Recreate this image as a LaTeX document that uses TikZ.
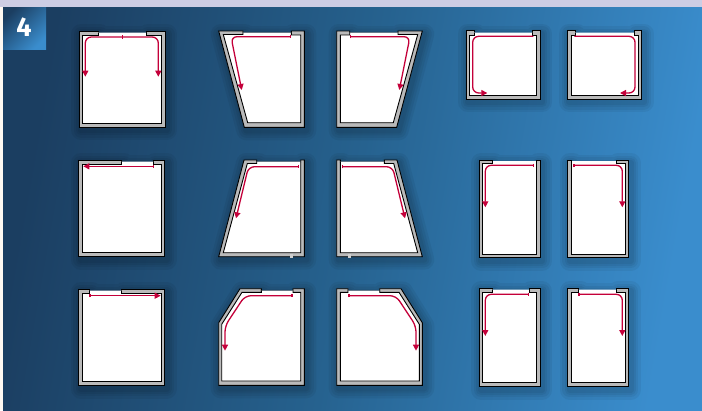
\documentclass[tikz,border=0pt]{standalone}
\usepackage{xcolor}
\usepackage{fontspec}
\setsansfont{Fira Sans}
\usetikzlibrary{arrows.meta}
\definecolor{bgdark}{HTML}{1B3E61}
\definecolor{bgmid}{HTML}{26628F}
\definecolor{bglight}{HTML}{3A8DCD}
\definecolor{wallgray}{HTML}{BABABA}
\definecolor{flowred}{HTML}{C4003A}

\begin{document}
\begin{tikzpicture}[x=1pt,y=-1pt, line join=miter,
  halo/.style={preaction={draw=black,draw opacity=.05,line width=#1,line join=round,
    transform canvas={shift={(2pt,-3pt)}}}},
  shell/.style={draw=black,fill=wallgray,line width=.9pt,halo=20pt,halo=15pt,halo=10pt,halo=6pt},
  cavity/.style={draw=black,fill=white,line width=.9pt},
  flow/.style={draw=flowred,line width=1.3pt,rounded corners=6pt,-{Triangle[length=6pt,width=6pt]}},
  bflow/.style={flow,{Bar[width=3.5pt,length=.8pt]}-{Triangle[length=6pt,width=6pt]}},
  speck/.style={fill=wallgray!70!white}]
  \useasboundingbox (0,0) rectangle (702,410);
  \fill[white!95!orange] (0,0) rectangle (3,410);
  \shade[left color=bgdark,right color=bglight,middle color=bgmid,shading angle=80] (3,7) rectangle (702,410);
  \fill[blue!30!gray!30!white] (0,0) rectangle (702,7);
  \shade[left color=bgdark,right color=bglight,shading angle=45] (3,7) rectangle (46,49);
  \node[text=white,font=\sffamily\bfseries\fontsize{27}{27}\selectfont] (badge) at (24,27) {4};

  % top row
  \draw[shell] (98,33)--(98,31)--(79,31)--(79,127)--(165,127)--(165,31)--(146,31)--(146,33)--cycle;
  \draw[cavity] (98,32.5)--(98,35)--(82.5,35)--(82.5,123)--(161.5,123)--(161.5,35)--(146,35)--(146,32.5);
  \draw[flow] (122.3,37)--(85.3,37)--(85.3,76.7);
  \draw[flow] (122.3,37)--(158.3,37)--(158.3,76.7);
  \draw[flowred,line width=.8pt] (122.3,35)--(122.3,39);

  \draw[shell] (243,33)--(243,31)--(218.7,31)--(244.3,127.3)--(304.3,127.3)--(304.3,31)--(291.3,31)--(291.3,33)--cycle;
  \draw[cavity] (243,32.5)--(243,34.5)--(223.3,34.5)--(247.7,122.7)--(300.7,122.7)--(300.7,35)--(291.3,35)--(291.3,32.5);
  \draw[bflow] (291,36.7)--(231,36.7)--(241.7,90);

  \draw[shell] (398,33)--(398,31)--(422.3,31)--(396.7,127.3)--(336.7,127.3)--(336.7,31)--(349.7,31)--(349.7,33)--cycle;
  \draw[cavity] (398,32.5)--(398,34.5)--(417.7,34.5)--(393.3,122.7)--(340.3,122.7)--(340.3,35)--(349.7,35)--(349.7,32.5);
  \draw[bflow] (350,36.7)--(410,36.7)--(399.3,90);

  \draw[shell] (474,33)--(474,30.5)--(466,30.5)--(466,99.3)--(540.3,99.3)--(540.3,30.5)--(532.3,30.5)--(532.3,33)--cycle;
  \draw[cavity] (474,32.5)--(474,35)--(469.7,35)--(469.7,95.3)--(536.7,95.3)--(536.7,35)--(532.3,35)--(532.3,32.5);
  \draw[flow] (533.3,36.3)--(472.7,36.3)--(472.7,93)--(487.3,93);

  \draw[shell] (575,33)--(575,30.5)--(567.3,30.5)--(567.3,99.3)--(641.7,99.3)--(641.7,30.5)--(634,30.5)--(634,33)--cycle;
  \draw[cavity] (575,32.5)--(575,35)--(571,35)--(571,95.3)--(638,95.3)--(638,35)--(634,35)--(634,32.5);
  \draw[flow] (574.3,36.3)--(635,36.3)--(635,93)--(620,93);

  % middle row
  \draw[shell] (121.7,162)--(121.7,160)--(78.7,160)--(78.7,256.7)--(164.7,256.7)--(164.7,160)--(153.3,160)--(153.3,162)--cycle;
  \draw[cavity] (121.7,161.5)--(121.7,164)--(82.3,164)--(82.3,252.3)--(161.3,252.3)--(161.3,164)--(153.3,164)--(153.3,161.5);
  \draw[bflow] (154,166.3)--(83.3,166.3);

  \draw[shell] (256.7,162)--(256.7,160)--(244,160)--(218.7,256.7)--(304.3,256.7)--(304.3,160)--(300.7,160)--(300.7,162)--cycle;
  \draw[cavity] (256.7,161.5)--(256.7,163.5)--(247.3,163.5)--(223.3,252.7)--(300.7,252.7)--(300.7,161.5);
  \draw[bflow] (299.3,166.7)--(248.5,166.7)--(236,218.3);
  \fill[speck] (289.8,253.5) rectangle (292.8,257.5);

  \draw[shell] (384.3,162)--(384.3,160)--(397,160)--(422.3,256.7)--(336.7,256.7)--(336.7,160)--(340.3,160)--(340.3,162)--cycle;
  \draw[cavity] (384.3,161.5)--(384.3,163.5)--(393.7,163.5)--(417.7,252.7)--(340.3,252.7)--(340.3,161.5);
  \draw[bflow] (341.7,166.7)--(392.5,166.7)--(405,218.3);
  \fill[speck] (348.2,253.5) rectangle (351.2,257.5);

  \draw[shell] (492,161.5)--(492,160)--(479,160)--(479,257.7)--(540.3,257.7)--(540.3,160)--(536.3,160)--(536.3,161.5)--cycle;
  \draw[cavity] (492,161)--(492,163.5)--(482.7,163.5)--(482.7,254)--(536.3,254)--(536.3,161);
  \draw[bflow] (534.3,165.3)--(485.3,165.3)--(485.3,207.3);

  \draw[shell] (616,161.5)--(616,160)--(628.7,160)--(628.7,257.7)--(567.7,257.7)--(567.7,160)--(571.3,160)--(571.3,161.5)--cycle;
  \draw[cavity] (616,161)--(616,163.5)--(625.3,163.5)--(625.3,254)--(571.3,254)--(571.3,161);
  \draw[bflow] (573.3,165.3)--(622.3,165.3)--(622.3,207.3);

  % bottom row
  \draw[shell] (89.7,291)--(89.7,289.3)--(78.7,289.3)--(78.7,385.7)--(164.7,385.7)--(164.7,289.3)--(121.7,289.3)--(121.7,291)--cycle;
  \draw[cavity] (89.7,290.5)--(89.7,293.3)--(82.3,293.3)--(82.3,381.3)--(161.3,381.3)--(161.3,293.3)--(121.7,293.3)--(121.7,290.5);
  \draw[bflow] (89.3,295.7)--(160.7,295.7);

  \draw[shell] (261.3,291)--(261.3,288.7)--(240,288.7)--(218.7,322.7)--(218.7,385.3)--(304.3,385.3)--(304.3,288.7)--(293,288.7)--(293,291)--cycle;
  \draw[cavity] (261.3,290.5)--(261.3,292.3)--(242,292.3)--(221.7,324.3)--(221.7,381)--(300.7,381)--(300.7,292.3)--(293,292.3)--(293,290.5);
  \draw[bflow] (292.7,295.7)--(245,295.7)--(225,326)--(225,350.7);

  \draw[shell] (379.7,291)--(379.7,288.7)--(401,288.7)--(422.3,322.7)--(422.3,385.3)--(336.7,385.3)--(336.7,288.7)--(348,288.7)--(348,291)--cycle;
  \draw[cavity] (379.7,290.5)--(379.7,292.3)--(399,292.3)--(419.3,324.3)--(419.3,381)--(340.3,381)--(340.3,292.3)--(348,292.3)--(348,290.5);
  \draw[bflow] (348.3,295.7)--(396,295.7)--(416,326)--(416,350.7);

  \draw[shell] (492,290)--(492,288.3)--(479,288.3)--(479,386.7)--(540.3,386.7)--(540.3,288.3)--(529,288.3)--(529,290)--cycle;
  \draw[cavity] (492,289.5)--(492,292.3)--(482.7,292.3)--(482.7,382.7)--(536.3,382.7)--(536.3,292.3)--(529,292.3)--(529,289.5);
  \draw[bflow] (529.3,294.3)--(485.3,294.3)--(485.3,336);

  \draw[shell] (578.7,290)--(578.7,288.3)--(567.7,288.3)--(567.7,386.7)--(628.7,386.7)--(628.7,288.3)--(616,288.3)--(616,290)--cycle;
  \draw[cavity] (578.7,289.5)--(578.7,292.3)--(571.3,292.3)--(571.3,382.7)--(625.3,382.7)--(625.3,292.3)--(616,292.3)--(616,289.5);
  \draw[bflow] (578.3,294.3)--(622.3,294.3)--(622.3,336);
\end{tikzpicture}
\end{document}
